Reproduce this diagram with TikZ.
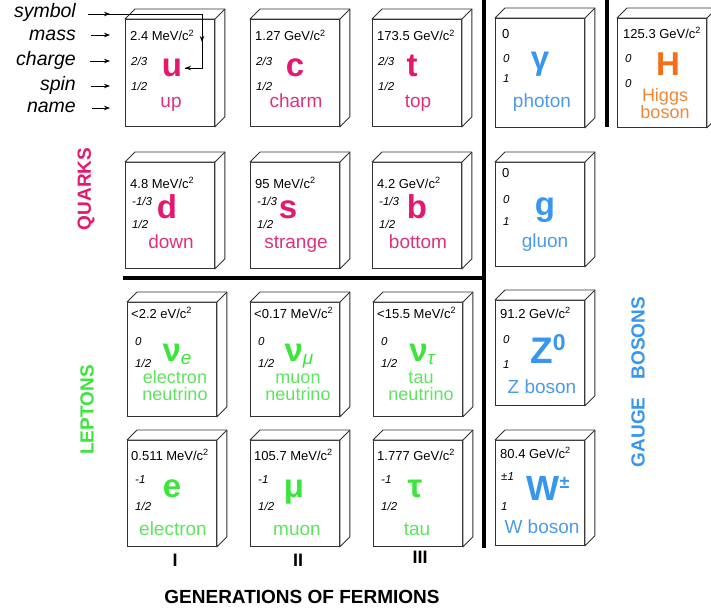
\documentclass[tikz,border=0pt]{standalone}
\usepackage{fontspec}
\setmainfont{Liberation Sans}
\usetikzlibrary{calc,arrows.meta}
\definecolor{quarkc}{RGB}{228,24,110}
\definecolor{quarkn}{RGB}{222,50,125}
\definecolor{leptc}{RGB}{60,228,60}
\definecolor{leptn}{RGB}{95,228,95}
\definecolor{bosc}{RGB}{55,150,238}
\definecolor{bosn}{RGB}{75,155,235}
\definecolor{higc}{RGB}{245,110,25}
\definecolor{hign}{RGB}{240,135,55}
\definecolor{edgec}{RGB}{50,50,50}
\tikzset{
 frontface/.style={draw=edgec, line width=0.9pt, fill=white, minimum width=89pt, inner sep=0pt, anchor=north west, rectangle},
 edge/.style={draw=edgec, line width=0.9pt, line join=round, fill=white},
 masstxt/.style={font=\fontsize{13}{14}\selectfont, anchor=base west, inner sep=0pt},
 qtxt/.style={font=\fontsize{11.5}{12}\selectfont\itshape, anchor=base west, inner sep=0pt},
 symtxt/.style={font=\fontsize{33}{34}\selectfont\bfseries, anchor=base, inner sep=0pt},
 nametxt/.style={font=\fontsize{19}{20}\selectfont, anchor=base, inner sep=0pt},
 nametwo/.style={font=\fontsize{18}{20}\selectfont, anchor=base, inner sep=0pt},
 legend/.style={font=\fontsize{19.5}{20}\selectfont\itshape, anchor=base east, inner sep=0pt},
 arr/.style={-{Stealth[length=6pt,width=4.5pt]}, line width=0.8pt},
 plainline/.style={line width=0.8pt},
 divider/.style={line width=4pt, black},
 catlabel/.style={font=\fontsize{19}{20}\selectfont\bfseries, inner sep=0pt, rotate=90},
 genlabel/.style={font=\fontsize{18}{20}\selectfont\bfseries, inner sep=0pt},
}
\newcommand\pbox[4]{%
  \node[frontface, minimum height=#4pt] (#1) at (#2,#3) {};
  \draw[edge] (#1.north west) -- ++(10,-10) -- ($(#1.north east)+(10,-10)$) -- ($(#1.south east)+(10,-10)$) -- (#1.south east) -- (#1.north east) -- cycle;
  \draw[edge] (#1.north east) -- ++(10,-10);
}
\newcommand\offs[5]{\def\dM{#1}\def\dC{#2}\def\dS{#3}\def\dY{#4}\def\dN{#5}}
\def\dMx{5}\def\dCx{6}\def\dX{46}\def\dNX{46}\def\nstyle{nametxt}
\newcommand\ptext[7]{%
  \node[masstxt] (#1-m) at ($(#1.north west)+(\dMx,\dM)$) {#2};
  \node[qtxt] (#1-q) at ($(#1.north west)+(\dCx,\dC)$) {#3};
  \node[qtxt] (#1-s) at ($(#1.north west)+(\dCx,\dS)$) {#4};
  \node[symtxt, text=#7c] (#1-y) at ($(#1.north west)+(\dX,\dY)$) {#5};
  \node[\nstyle, text=#7n] (#1-n) at ($(#1.north west)+(\dNX,\dN)$) {#6};
}
\newcommand\csq{c\textsuperscript{2}}
\newcommand\nusub[1]{\raisebox{-3pt}{\fontsize{19}{19}\selectfont\mdseries\itshape #1}}
\begin{document}
\begin{tikzpicture}[x=1pt,y=-1pt]
\useasboundingbox (0,0) rectangle (711,610);
\fill[white] (0,0) rectangle (711,610);
\clip (0,0) rectangle (711,610);

% ---------- boxes ----------
\pbox{u}{125}{19}{107}
\pbox{c}{250}{19}{107}
\pbox{t}{372}{19}{107}
\pbox{ph}{495}{18}{109}
\pbox{H}{617}{18}{109}
\pbox{d}{125}{162}{106}
\pbox{s}{250}{162}{106}
\pbox{b}{372}{162}{106}
\pbox{gl}{495}{162}{104}
\pbox{nue}{127}{302}{114}
\pbox{num}{250}{302}{114}
\pbox{nut}{373}{302}{114}
\pbox{Z}{495}{300}{105}
\pbox{e}{127}{440}{106}
\pbox{mu}{250}{440}{106}
\pbox{tau}{373}{440}{106}
\pbox{W}{495}{440}{105}

% ---------- quarks row 1 ----------
\offs{22}{46}{71}{57}{88}
\def\dX{47}\ptext{u}{2.4 MeV/\csq}{2/3}{1/2}{u}{up}{quark}
\def\dX{45}\ptext{c}{1.27 GeV/\csq}{2/3}{1/2}{c}{charm}{quark}
\def\dX{40}\ptext{t}{173.5 GeV/\csq}{2/3}{1/2}{t}{top}{quark}
% ---------- quarks row 2 ----------
\offs{26}{43}{66}{56}{86}\def\dCx{7}
\def\dX{42}\ptext{d}{4.8 MeV/\csq}{-1/3}{1/2}{d}{down}{quark}
\def\dX{38}\ptext{s}{95 MeV/\csq}{-1/3}{1/2}{s}{strange}{quark}
\def\dX{45}\ptext{b}{4.2 GeV/\csq}{-1/3}{1/2}{b}{bottom}{quark}
% ---------- photon ----------
\offs{20}{45}{64}{52}{89}\def\dMx{7}\def\dCx{8}\def\dX{45}\def\dNX{47}
\ptext{ph}{0}{0}{1}{γ}{photon}{bos}
% ---------- Higgs ----------
\offs{20}{45}{69}{57}{83}\def\dMx{6}\def\dX{51}\def\dNX{48}\def\nstyle{nametwo}
\ptext{H}{125.3 GeV/\csq}{0}{0}{H}{Higgs}{hig}
\node[nametwo, text=hign] (H-n2) at ($(H.north west)+(48,100)$) {boson};
\def\nstyle{nametxt}
% ---------- gluon ----------
\offs{15}{41}{63}{53}{85}\def\dMx{7}\def\dX{50}\def\dNX{50}
\ptext{gl}{0}{0}{1}{g}{gluon}{bos}
% ---------- neutrinos ----------
\offs{16}{43}{65}{59}{81}\def\dMx{4}\def\dCx{8}\def\dNX{48}\def\nstyle{nametwo}
\def\dX{50}\ptext{nue}{<2.2 eV/\csq}{0}{1/2}{ν\nusub{e}}{electron}{lept}
\def\dX{49}\ptext{num}{<0.17 MeV/\csq}{0}{1/2}{ν\nusub{μ}}{muon}{lept}
\def\dX{49}\ptext{nut}{<15.5 MeV/\csq}{0}{1/2}{ν\nusub{τ}}{tau}{lept}
\node[nametwo, text=leptn] (nue-n2) at ($(nue.north west)+(48,98)$) {neutrino};
\node[nametwo, text=leptn] (num-n2) at ($(num.north west)+(48,98)$) {neutrino};
\node[nametwo, text=leptn] (nut-n2) at ($(nut.north west)+(48,98)$) {neutrino};
\def\nstyle{nametxt}
% ---------- Z ----------
\offs{18}{43}{68}{63}{93}\def\dMx{5}\def\dX{53}\def\dNX{47}
\ptext{Z}{91.2 GeV/\csq}{0}{1}{\fontsize{37}{38}\selectfont Z\raisebox{13pt}{\fontsize{23}{23}\selectfont 0}}{Z boson}{bos}
% ---------- charged leptons ----------
\offs{20}{43}{70}{57}{95}\def\dMx{4}\def\dCx{8}
\def\dX{45}\def\dNX{46}\ptext{e}{0.511 MeV/\csq}{-1}{1/2}{e}{electron}{lept}
\def\dX{44}\def\dNX{47}\ptext{mu}{105.7 MeV/\csq}{-1}{1/2}{μ}{muon}{lept}
\def\dX{42}\def\dNX{44}\ptext{tau}{1.777 GeV/\csq}{-1}{1/2}{τ}{tau}{lept}
% ---------- W ----------
\offs{18}{40}{70}{60}{93}\def\dMx{5}\def\dCx{6}\def\dX{53}\def\dNX{47}
\ptext{W}{80.4 GeV/\csq}{±1}{1}{\fontsize{35}{36}\selectfont W\raisebox{12pt}{\fontsize{18}{18}\selectfont ±}}{W boson}{bos}

% ---------- dividers ----------
\draw[divider] (484,0) -- (484,548);
\draw[divider] (607,0) -- (607,127);
\draw[divider] (123,278) -- (486,278);

% ---------- legend ----------
\node[legend] (lsym) at (76,18) {symbol};
\node[legend] (lmass) at (76,41) {mass};
\node[legend] (lcharge) at (76,65) {charge};
\node[legend] (lspin) at (76,90) {spin};
\node[legend] (lname) at (76,112) {name};
\coordinate (s0) at (88,14);
\coordinate (s1) at (110,14);
\coordinate (s2) at (202,14);
\coordinate (s3) at (202,68);
\coordinate (s4) at (202,42);
\coordinate (s5) at (185,68);
\draw[plainline] (s0) -- (s2) -- (s3) -- (s5);
\draw[arr] (s0) -- (s1);
\draw[arr] (s2) -- (s4);
\draw[arr] (s3) -- (s5);
\coordinate (m0) at (91,35);  \coordinate (m1) at (110,35);
\coordinate (q0) at (90,61);  \coordinate (q1) at (110,61);
\coordinate (p0) at (91,86);  \coordinate (p1) at (110,86);
\coordinate (n0) at (92,108); \coordinate (n1) at (110,108);
\draw[arr] (m0) -- (m1);
\draw[arr] (q0) -- (q1);
\draw[arr] (p0) -- (p1);
\draw[arr] (n0) -- (n1);

% ---------- category labels ----------
\node[catlabel, text=quarkc] (lq) at (86,189) {QUARKS};
\node[catlabel, text=leptc] (ll) at (87,410) {LEPTONS};
\node[catlabel, text=bosc] (lg) at (638,382) {GAUGE\hspace{18pt}BOSONS};

% ---------- generations ----------
\node[genlabel] (g1) at (175,560) {I};
\node[genlabel] (g2) at (298,560) {II};
\node[genlabel] (g3) at (420,557) {III};
\node[genlabel, font=\fontsize{19}{20}\selectfont\bfseries] (gen) at (302,597) {GENERATIONS OF FERMIONS};
\end{tikzpicture}
\end{document}
